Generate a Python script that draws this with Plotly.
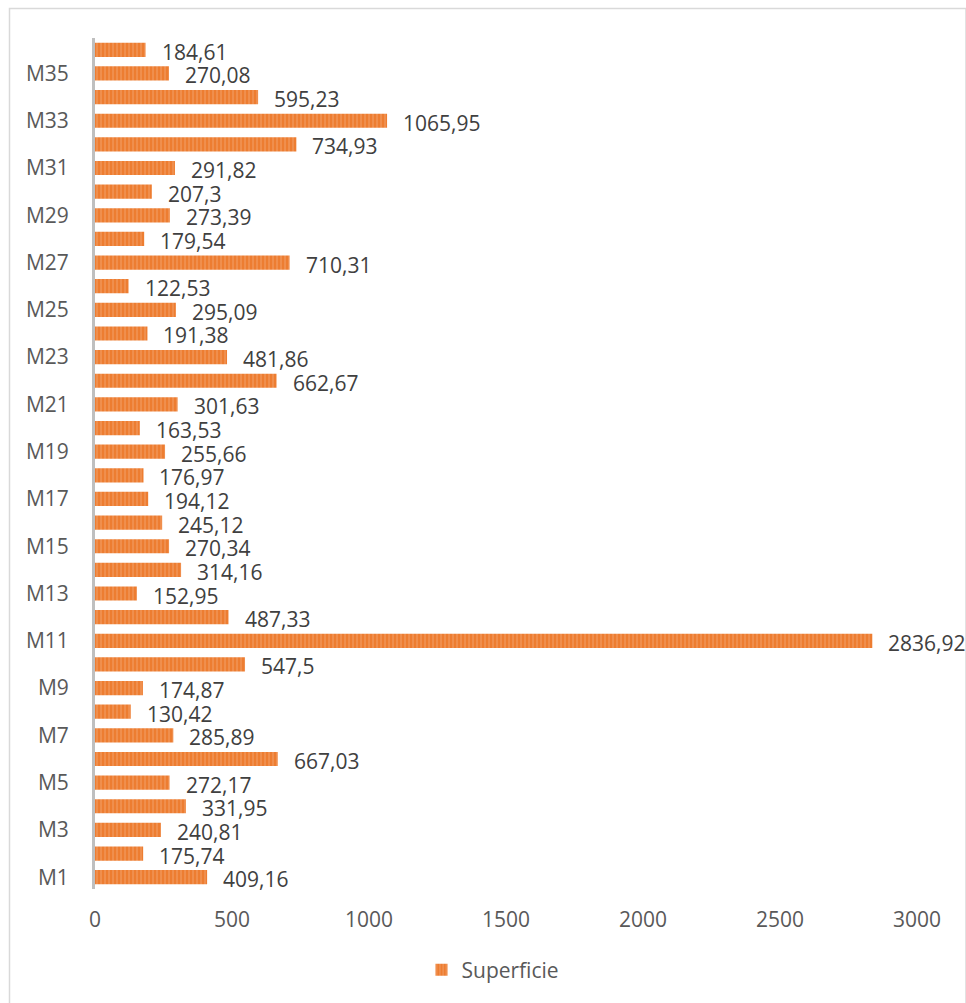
import plotly.graph_objects as go

# Surface per parcel, M1 (bottom) to M36 (top)
categories = [f"M{i}" for i in range(1, 37)]
superficie = [
    409.16, 175.74, 240.81, 331.95, 272.17, 667.03, 285.89, 130.42, 174.87, 547.5,
    2836.92, 487.33, 152.95, 314.16, 270.34, 245.12, 194.12, 176.97, 255.66, 163.53,
    301.63, 662.67, 481.86, 191.38, 295.09, 122.53, 710.31, 179.54, 273.39, 207.3,
    291.82, 734.93, 1065.95, 595.23, 270.08, 184.61,
]
x_ticks = [0, 500, 1000, 1500, 2000, 2500, 3000]
y_ticks = categories[0::2]

labels = [f"{v:g}".replace(".", ",") for v in superficie]

FONT = "Open Sans"
W, H = 966, 1003
L, R, T, B = 95, 49, 38, 114

fig = go.Figure(
    go.Bar(
        x=superficie,
        y=categories,
        orientation="h",
        name="Superficie",
        marker=dict(
            color="#ED7D31",
            line=dict(width=0),
            pattern=dict(shape="|", size=4, solidity=0.3,
                         fgcolor="#F6B88E", bgcolor="#ED7D31", fillmode="overlay"),
        ),
    )
)

# value labels to the right of each bar
for cat, val, lab in zip(categories, superficie, labels):
    fig.add_annotation(x=val, y=cat, text=lab, showarrow=False,
                       xanchor="left", yanchor="middle", xshift=14, yshift=-2,
                       font=dict(family=FONT, size=21, color="#404040"))

# outer chart frame
pw, ph = W - L - R, H - T - B
def px2x(p):
    return (p - L) / pw
def py2y(p):
    return (H - B - p) / ph

fig.add_shape(type="rect", xref="paper", yref="paper",
              x0=px2x(9.5), x1=px2x(966), y0=py2y(8.5), y1=py2y(1010),
              line=dict(color="#D9D9D9", width=1.5), fillcolor="rgba(0,0,0,0)")

fig.update_layout(
    width=W, height=H,
    margin=dict(l=L, r=R, t=T, b=B, pad=0, autoexpand=False),
    paper_bgcolor="white", plot_bgcolor="white",
    bargap=0.4,
    showlegend=True,
    legend=dict(orientation="h", xref="container", x=493 / W, xanchor="center",
                yref="container", y=(H - 970) / H, yanchor="middle",
                itemwidth=30,
                font=dict(family=FONT, size=21, color="#595959")),
    xaxis=dict(range=[0, 3000], tickvals=x_ticks, showgrid=False, zeroline=False,
               showline=False, ticks="", ticklabelstandoff=16, automargin=False,
               tickfont=dict(family=FONT, size=21, color="#595959")),
    yaxis=dict(categoryorder="array", categoryarray=categories,
               range=[-0.5, len(categories) - 0.5], autorange=False,
               tickvals=y_ticks, showgrid=False, zeroline=False,
               showline=True, linecolor="#BFBFBF", linewidth=3,
               ticks="", ticklabelstandoff=19, automargin=False,
               tickfont=dict(family=FONT, size=21, color="#595959")),
    font=dict(family=FONT),
)

fig.write_html("out.html")
